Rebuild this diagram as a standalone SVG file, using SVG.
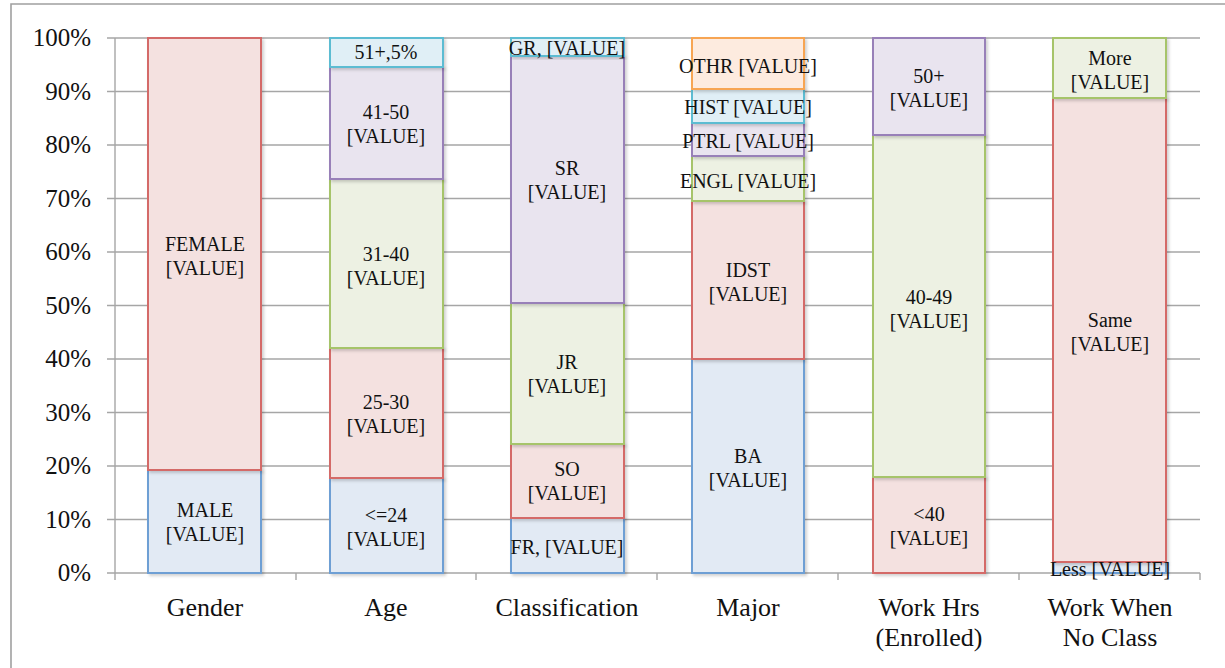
<svg xmlns="http://www.w3.org/2000/svg" width="1225" height="668" viewBox="0 0 1225 668">
<defs>
<filter id="sh" x="-10%" y="-10%" width="130%" height="130%">
<feDropShadow dx="2" dy="2" stdDeviation="1.5" flood-color="#000" flood-opacity="0.18"/>
</filter>
</defs>
<style>
text{font-family:"Liberation Serif","Times New Roman",serif;fill:#111}
.lbl{font-size:20px;text-anchor:middle}
.ax{font-size:25px;text-anchor:end}
.cat{font-size:26px;text-anchor:middle}
.grid{stroke:#a6a6a6;stroke-width:1.4;fill:none}
.b{stroke-width:2;filter:url(#sh)}
.blue{fill:#e2eaf4;stroke:#6e9fd4}
.red{fill:#f4e1e0;stroke:#d46b68}
.green{fill:#edf1e3;stroke:#a6c46a}
.purple{fill:#e9e4ef;stroke:#9880b8}
.cyan{fill:#e0eff6;stroke:#5bbcd2}
.orange{fill:#fdebdf;stroke:#f7a553}
</style>
<rect x="0" y="0" width="1225" height="668" fill="#fff"/>
<path d="M11,668 V4 H1225" fill="none" stroke="#a0a0a0" stroke-width="1.6"/>
<g id="axes">
<path class="grid" d="M107,38H1200M107,91.5H1200M107,145H1200M107,198.5H1200M107,252H1200M107,305.5H1200M107,359H1200M107,412.5H1200M107,466H1200M107,519.5H1200M107,573H1200"/>
<path class="grid" d="M115,38V580M296,573V580M476,573V580M657,573V580M838,573V580M1019,573V580M1200,573V580"/>
<text class="ax" x="91" y="46">100%</text>
<text class="ax" x="91" y="100">90%</text>
<text class="ax" x="91" y="153">80%</text>
<text class="ax" x="91" y="207">70%</text>
<text class="ax" x="91" y="260">60%</text>
<text class="ax" x="91" y="314">50%</text>
<text class="ax" x="91" y="367">40%</text>
<text class="ax" x="91" y="421">30%</text>
<text class="ax" x="91" y="474">20%</text>
<text class="ax" x="91" y="528">10%</text>
<text class="ax" x="91" y="581">0%</text>
<text class="cat" x="205" y="616">Gender</text>
<text class="cat" x="386" y="616">Age</text>
<text class="cat" x="567" y="616">Classification</text>
<text class="cat" x="748" y="616">Major</text>
<text class="cat" x="929" y="616">Work Hrs</text>
<text class="cat" x="929" y="646">(Enrolled)</text>
<text class="cat" x="1110" y="616">Work When</text>
<text class="cat" x="1110" y="646">No Class</text>
</g>
<g id="gender">
<rect class="b blue" x="148" y="470" width="113" height="103"/>
<rect class="b red" x="148" y="38" width="113" height="432"/>
<text class="lbl" x="205" y="251">FEMALE</text>
<text class="lbl" x="205" y="275">[VALUE]</text>
<text class="lbl" x="205" y="517">MALE</text>
<text class="lbl" x="205" y="541">[VALUE]</text>
</g>
<g id="age">
<rect class="b blue" x="330" y="478" width="113" height="95"/>
<rect class="b red" x="330" y="348" width="113" height="130"/>
<rect class="b green" x="330" y="179" width="113" height="169"/>
<rect class="b purple" x="330" y="67" width="113" height="112"/>
<rect class="b cyan" x="330" y="38" width="113" height="29"/>
<text class="lbl" x="386" y="59">51+,5%</text>
<text class="lbl" x="386" y="119">41-50</text>
<text class="lbl" x="386" y="143">[VALUE]</text>
<text class="lbl" x="386" y="261">31-40</text>
<text class="lbl" x="386" y="285">[VALUE]</text>
<text class="lbl" x="386" y="409">25-30</text>
<text class="lbl" x="386" y="433">[VALUE]</text>
<text class="lbl" x="386" y="522">&lt;=24</text>
<text class="lbl" x="386" y="546">[VALUE]</text>
</g>
<g id="classification">
<rect class="b blue" x="511" y="518" width="113" height="55"/>
<rect class="b red" x="511" y="444" width="113" height="74"/>
<rect class="b green" x="511" y="303" width="113" height="141"/>
<rect class="b purple" x="511" y="56" width="113" height="247"/>
<rect class="b cyan" x="511" y="38" width="113" height="18"/>
<text class="lbl" x="567" y="55">GR, [VALUE]</text>
<text class="lbl" x="567" y="175">SR</text>
<text class="lbl" x="567" y="199">[VALUE]</text>
<text class="lbl" x="567" y="369">JR</text>
<text class="lbl" x="567" y="393">[VALUE]</text>
<text class="lbl" x="567" y="476">SO</text>
<text class="lbl" x="567" y="500">[VALUE]</text>
<text class="lbl" x="567" y="554">FR, [VALUE]</text>
</g>
<g id="major">
<rect class="b blue" x="692" y="359" width="112" height="214"/>
<rect class="b red" x="692" y="201" width="112" height="158"/>
<rect class="b green" x="692" y="156" width="112" height="45"/>
<rect class="b purple" x="692" y="123" width="112" height="33"/>
<rect class="b cyan" x="692" y="89" width="112" height="34"/>
<rect class="b orange" x="692" y="38" width="112" height="51"/>
<text class="lbl" x="748" y="73">OTHR [VALUE]</text>
<text class="lbl" x="748" y="114">HIST [VALUE]</text>
<text class="lbl" x="748" y="148">PTRL [VALUE]</text>
<text class="lbl" x="748" y="188">ENGL [VALUE]</text>
<text class="lbl" x="748" y="277">IDST</text>
<text class="lbl" x="748" y="301">[VALUE]</text>
<text class="lbl" x="748" y="463">BA</text>
<text class="lbl" x="748" y="487">[VALUE]</text>
</g>
<g id="workhrs">
<rect class="b red" x="873" y="477" width="112" height="96"/>
<rect class="b green" x="873" y="135" width="112" height="342"/>
<rect class="b purple" x="873" y="38" width="112" height="97"/>
<text class="lbl" x="929" y="83">50+</text>
<text class="lbl" x="929" y="107">[VALUE]</text>
<text class="lbl" x="929" y="304">40-49</text>
<text class="lbl" x="929" y="328">[VALUE]</text>
<text class="lbl" x="929" y="521">&lt;40</text>
<text class="lbl" x="929" y="545">[VALUE]</text>
</g>
<g id="workwhen">
<rect class="b blue" x="1053" y="562" width="113" height="11"/>
<rect class="b red" x="1053" y="98" width="113" height="464"/>
<rect class="b green" x="1053" y="38" width="113" height="60"/>
<text class="lbl" x="1110" y="65">More</text>
<text class="lbl" x="1110" y="89">[VALUE]</text>
<text class="lbl" x="1110" y="327">Same</text>
<text class="lbl" x="1110" y="351">[VALUE]</text>
<text class="lbl" x="1110" y="576">Less [VALUE]</text>
</g>
</svg>
